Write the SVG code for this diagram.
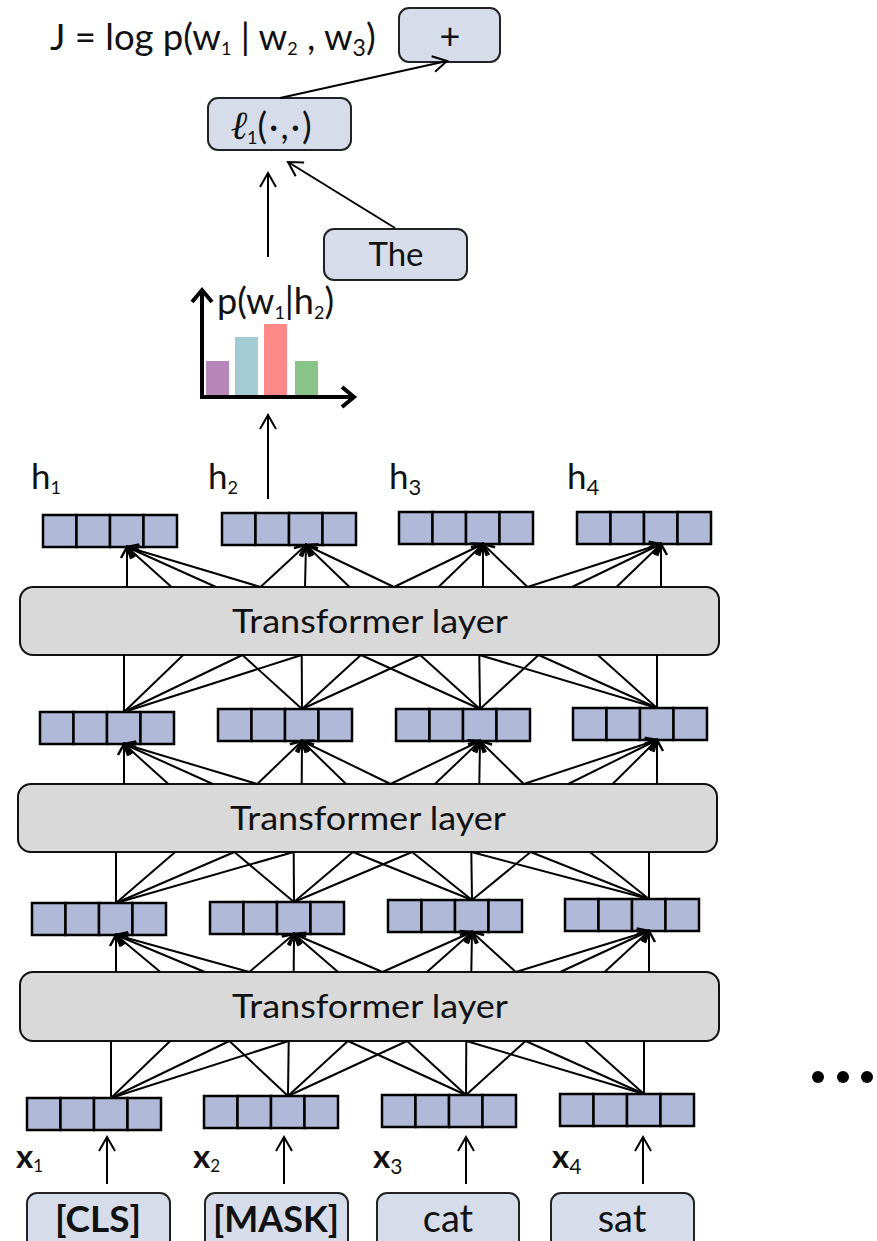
<svg xmlns="http://www.w3.org/2000/svg" xmlns:xlink="http://www.w3.org/1999/xlink" width="877" height="1241" viewBox="0 0 877 1241">
<style>
.t{font-family:Lato,"Open Sans",sans-serif;fill:#111}
.b{font-weight:bold}
.box{fill:#d6dcea;stroke:#222;stroke-width:2}
.layer{fill:#d9d9d9;stroke:#111;stroke-width:2}
.cell{fill:#b0b9d8;stroke:#000;stroke-width:2.5}
.ln{stroke:#000;stroke-width:2;fill:none}
.ar{stroke:#000;stroke-width:2;fill:none;marker-end:url(#ah)}
.as{stroke:#000;stroke-width:2;fill:none;marker-end:url(#ahs)}
.ax{stroke:#000;stroke-width:4;fill:none;marker-end:url(#axh)}
</style>
<defs>
<marker id="ah" viewBox="-16 -11 18 22" refX="0" refY="0" markerWidth="18" markerHeight="22" markerUnits="userSpaceOnUse" orient="auto"><path d="M-14,-8 L0,0 L-14,8" fill="none" stroke="#000" stroke-width="2"/></marker>
<marker id="ahs" viewBox="-14 -9 16 18" refX="0" refY="0" markerWidth="16" markerHeight="18" markerUnits="userSpaceOnUse" orient="auto"><path d="M-11,-6 L0,0 L-11,6" fill="none" stroke="#000" stroke-width="2.5"/></marker>
<marker id="axh" viewBox="-16 -13 20 26" refX="0" refY="0" markerWidth="20" markerHeight="26" markerUnits="userSpaceOnUse" orient="auto"><path d="M-12,-10 L0,0 L-12,10" fill="none" stroke="#000" stroke-width="4"/></marker>
<g id="vec">
<rect class="cell" x="0" y="0" width="33.5" height="32"/>
<rect class="cell" x="33.5" y="0" width="33.5" height="32"/>
<rect class="cell" x="67" y="0" width="33.5" height="32"/>
<rect class="cell" x="100.5" y="0" width="33.5" height="32"/>
</g>
</defs>
<rect width="877" height="1241" fill="#fff"/>

<!-- Top objective -->
<text id="objective" class="t" x="50" y="50" font-size="36.5">J = log p(w<tspan font-size="18" dy="5">1</tspan><tspan dy="-5"> | w</tspan><tspan font-size="18" dy="5">2</tspan><tspan dy="-5"> , w</tspan><tspan font-size="23" dy="6">3</tspan><tspan dy="-6">)</tspan></text>

<g id="plus"><rect class="box" x="399" y="8" width="101" height="54" rx="10"/><text class="t" x="450" y="49" font-size="36" text-anchor="middle">+</text></g>

<g id="loss"><rect class="box" x="208" y="98" width="143" height="52" rx="10"/><text class="t" x="272" y="139" font-size="36" text-anchor="middle"><tspan font-family="Liberation Serif,serif" font-style="italic" font-size="40">ℓ</tspan><tspan font-size="18" dy="5">1</tspan><tspan dy="-5" letter-spacing="2">(·,·)</tspan></text></g>

<g id="the"><rect class="box" x="324" y="229" width="143" height="51" rx="10"/><text class="t" x="396" y="266" font-size="33" text-anchor="middle">The</text></g>

<!-- chart -->
<g id="chart">
<rect x="206" y="361" width="23" height="36" fill="#b687b8"/>
<rect x="235" y="337" width="23" height="60" fill="#a3cbd4"/>
<rect x="264" y="324" width="23" height="75" fill="#ff8888"/>
<rect x="295" y="361" width="23" height="36" fill="#88c488"/>
<line class="ax" x1="202" y1="399" x2="202" y2="290"/>
<line class="ax" x1="200" y1="397" x2="354" y2="397"/>
<text class="t" x="217" y="314" font-size="36">p(w<tspan font-size="18" dy="5">1</tspan><tspan dy="-5">|h</tspan><tspan font-size="18" dy="5">2</tspan><tspan dy="-5">)</tspan></text>
</g>

<!-- h labels -->
<text class="t" x="31" y="489" font-size="35">h<tspan font-size="18" dy="5">1</tspan></text>
<text class="t" x="208" y="489" font-size="35">h<tspan font-size="18" dy="5">2</tspan></text>
<text class="t" x="389" y="489" font-size="35">h<tspan font-size="22" dy="6">3</tspan></text>
<text class="t" x="567" y="489" font-size="35">h<tspan font-size="22" dy="6">4</tspan></text>

<!-- vectors -->
<g id="h1v" transform="translate(43,515)"><use xlink:href="#vec"/></g>
<g id="h2v" transform="translate(222,513)"><use xlink:href="#vec"/></g>
<g id="h3v" transform="translate(399,512)"><use xlink:href="#vec"/></g>
<g id="h4v" transform="translate(577,512)"><use xlink:href="#vec"/></g>

<g id="r2v1" transform="translate(40,712)"><use xlink:href="#vec"/></g>
<g id="r2v2" transform="translate(218,709)"><use xlink:href="#vec"/></g>
<g id="r2v3" transform="translate(396,709)"><use xlink:href="#vec"/></g>
<g id="r2v4" transform="translate(573,708)"><use xlink:href="#vec"/></g>

<g id="r3v1" transform="translate(32,903)"><use xlink:href="#vec"/></g>
<g id="r3v2" transform="translate(210,902)"><use xlink:href="#vec"/></g>
<g id="r3v3" transform="translate(388,900)"><use xlink:href="#vec"/></g>
<g id="r3v4" transform="translate(565,899)"><use xlink:href="#vec"/></g>

<g id="x1v" transform="translate(27,1098)"><use xlink:href="#vec"/></g>
<g id="x2v" transform="translate(204,1096)"><use xlink:href="#vec"/></g>
<g id="x3v" transform="translate(382,1095)"><use xlink:href="#vec"/></g>
<g id="x4v" transform="translate(560,1094)"><use xlink:href="#vec"/></g>

<!-- layers -->
<g id="layer1"><rect class="layer" x="20" y="587" width="699" height="68" rx="13"/><text class="t" x="370" y="633" font-size="33" text-anchor="middle" textLength="276" lengthAdjust="spacingAndGlyphs">Transformer layer</text></g>
<g id="layer2"><rect class="layer" x="18" y="784" width="699" height="68" rx="13"/><text class="t" x="368" y="830" font-size="33" text-anchor="middle" textLength="276" lengthAdjust="spacingAndGlyphs">Transformer layer</text></g>
<g id="layer3"><rect class="layer" x="20" y="972" width="699" height="69" rx="13"/><text class="t" x="370" y="1018" font-size="33" text-anchor="middle" textLength="276" lengthAdjust="spacingAndGlyphs">Transformer layer</text></g>

<!-- x labels -->
<text class="t" x="16" y="1168" font-size="33"><tspan class="b">x</tspan><tspan font-size="17" dy="4">1</tspan></text>
<text class="t" x="193" y="1168" font-size="33"><tspan class="b">x</tspan><tspan font-size="17" dy="4">2</tspan></text>
<text class="t" x="373" y="1168" font-size="33"><tspan class="b">x</tspan><tspan font-size="21" dy="6">3</tspan></text>
<text class="t" x="552" y="1168" font-size="33"><tspan class="b">x</tspan><tspan font-size="21" dy="6">4</tspan></text>

<!-- tokens -->
<g id="tok1"><rect class="box" x="27" y="1193" width="143" height="60" rx="10"/><text class="t b" x="98" y="1232" font-size="37" text-anchor="middle">[CLS]</text></g>
<g id="tok2"><rect class="box" x="205" y="1193" width="143" height="60" rx="10"/><text class="t b" x="276" y="1232" font-size="36" text-anchor="middle">[MASK]</text></g>
<g id="tok3"><rect class="box" x="377" y="1193" width="142" height="60" rx="10"/><text class="t" x="448" y="1232" font-size="38" text-anchor="middle">cat</text></g>
<g id="tok4"><rect class="box" x="551" y="1193" width="143" height="60" rx="10"/><text class="t" x="622" y="1232" font-size="38" text-anchor="middle">sat</text></g>

<g id="dots" fill="#000"><circle cx="818" cy="1077" r="6"/><circle cx="843" cy="1077" r="6"/><circle cx="867" cy="1077" r="6"/></g>

<g id="connectors">
<!-- top -->
<line class="ar" x1="280" y1="98" x2="447" y2="61"/>
<line class="ar" x1="268" y1="257" x2="268" y2="173"/>
<line class="ar" x1="395" y1="228" x2="288" y2="162"/>
<line class="ar" x1="268" y1="499" x2="268" y2="415"/>
<!-- token arrows -->
<line class="ar" x1="107" y1="1184" x2="107" y2="1137"/>
<line class="ar" x1="284" y1="1184" x2="284" y2="1137"/>
<line class="ar" x1="466" y1="1184" x2="466" y2="1137"/>
<line class="ar" x1="643" y1="1184" x2="643" y2="1137"/>

<!-- Band A: layer1 top -> h -->
<line class="as" x1="127" y1="587" x2="127" y2="547"/>
<line class="as" x1="171.5" y1="587" x2="127" y2="547"/>
<line class="as" x1="216" y1="587" x2="127" y2="547"/>
<line class="as" x1="260.5" y1="587" x2="127" y2="547"/>
<line class="as" x1="260.5" y1="587" x2="306" y2="545"/>
<line class="as" x1="305" y1="587" x2="306" y2="545"/>
<line class="as" x1="349.5" y1="587" x2="306" y2="545"/>
<line class="as" x1="394" y1="587" x2="306" y2="545"/>
<line class="as" x1="394" y1="587" x2="483" y2="544"/>
<line class="as" x1="438.5" y1="587" x2="483" y2="544"/>
<line class="as" x1="483" y1="587" x2="483" y2="544"/>
<line class="as" x1="527.5" y1="587" x2="483" y2="544"/>
<line class="as" x1="527.5" y1="587" x2="661" y2="544"/>
<line class="as" x1="572" y1="587" x2="661" y2="544"/>
<line class="as" x1="616.5" y1="587" x2="661" y2="544"/>
<line class="as" x1="661" y1="587" x2="661" y2="544"/>

<!-- Band B: row2 -> layer1 bottom -->
<line class="ln" x1="124" y1="712" x2="124" y2="655"/>
<line class="ln" x1="124" y1="712" x2="183.2" y2="655"/>
<line class="ln" x1="124" y1="712" x2="242.4" y2="655"/>
<line class="ln" x1="124" y1="712" x2="301.7" y2="655"/>
<line class="ln" x1="302" y1="709" x2="242.4" y2="655"/>
<line class="ln" x1="302" y1="709" x2="301.7" y2="655"/>
<line class="ln" x1="302" y1="709" x2="360.9" y2="655"/>
<line class="ln" x1="302" y1="709" x2="420.1" y2="655"/>
<line class="ln" x1="480" y1="709" x2="360.9" y2="655"/>
<line class="ln" x1="480" y1="709" x2="420.1" y2="655"/>
<line class="ln" x1="480" y1="709" x2="479.3" y2="655"/>
<line class="ln" x1="480" y1="709" x2="538.6" y2="655"/>
<line class="ln" x1="657" y1="708" x2="479.3" y2="655"/>
<line class="ln" x1="657" y1="708" x2="538.6" y2="655"/>
<line class="ln" x1="657" y1="708" x2="597.8" y2="655"/>
<line class="ln" x1="657" y1="708" x2="657" y2="655"/>

<!-- Band C: layer2 top -> row2 -->
<line class="as" x1="124" y1="784" x2="124" y2="744"/>
<line class="as" x1="168.4" y1="784" x2="124" y2="744"/>
<line class="as" x1="212.8" y1="784" x2="124" y2="744"/>
<line class="as" x1="257.3" y1="784" x2="124" y2="744"/>
<line class="as" x1="257.3" y1="784" x2="302" y2="741"/>
<line class="as" x1="301.7" y1="784" x2="302" y2="741"/>
<line class="as" x1="346.1" y1="784" x2="302" y2="741"/>
<line class="as" x1="390.5" y1="784" x2="302" y2="741"/>
<line class="as" x1="390.5" y1="784" x2="480" y2="741"/>
<line class="as" x1="434.9" y1="784" x2="480" y2="741"/>
<line class="as" x1="479.3" y1="784" x2="480" y2="741"/>
<line class="as" x1="523.8" y1="784" x2="480" y2="741"/>
<line class="as" x1="523.8" y1="784" x2="657" y2="740"/>
<line class="as" x1="568.2" y1="784" x2="657" y2="740"/>
<line class="as" x1="612.6" y1="784" x2="657" y2="740"/>
<line class="as" x1="657" y1="784" x2="657" y2="740"/>

<!-- Band D: row3 -> layer2 bottom -->
<line class="ln" x1="116" y1="903" x2="116" y2="852"/>
<line class="ln" x1="116" y1="903" x2="175.2" y2="852"/>
<line class="ln" x1="116" y1="903" x2="234.4" y2="852"/>
<line class="ln" x1="116" y1="903" x2="293.7" y2="852"/>
<line class="ln" x1="294" y1="902" x2="234.4" y2="852"/>
<line class="ln" x1="294" y1="902" x2="293.7" y2="852"/>
<line class="ln" x1="294" y1="902" x2="352.9" y2="852"/>
<line class="ln" x1="294" y1="902" x2="412.1" y2="852"/>
<line class="ln" x1="472" y1="900" x2="352.9" y2="852"/>
<line class="ln" x1="472" y1="900" x2="412.1" y2="852"/>
<line class="ln" x1="472" y1="900" x2="471.3" y2="852"/>
<line class="ln" x1="472" y1="900" x2="530.6" y2="852"/>
<line class="ln" x1="649" y1="899" x2="471.3" y2="852"/>
<line class="ln" x1="649" y1="899" x2="530.6" y2="852"/>
<line class="ln" x1="649" y1="899" x2="589.8" y2="852"/>
<line class="ln" x1="649" y1="899" x2="649" y2="852"/>

<!-- Band E: layer3 top -> row3 -->
<line class="as" x1="116" y1="972" x2="116" y2="935"/>
<line class="as" x1="160.4" y1="972" x2="116" y2="935"/>
<line class="as" x1="204.8" y1="972" x2="116" y2="935"/>
<line class="as" x1="249.3" y1="972" x2="116" y2="935"/>
<line class="as" x1="249.3" y1="972" x2="294" y2="934"/>
<line class="as" x1="293.7" y1="972" x2="294" y2="934"/>
<line class="as" x1="338.1" y1="972" x2="294" y2="934"/>
<line class="as" x1="382.5" y1="972" x2="294" y2="934"/>
<line class="as" x1="382.5" y1="972" x2="472" y2="932"/>
<line class="as" x1="426.9" y1="972" x2="472" y2="932"/>
<line class="as" x1="471.3" y1="972" x2="472" y2="932"/>
<line class="as" x1="515.8" y1="972" x2="472" y2="932"/>
<line class="as" x1="515.8" y1="972" x2="649" y2="931"/>
<line class="as" x1="560.2" y1="972" x2="649" y2="931"/>
<line class="as" x1="604.6" y1="972" x2="649" y2="931"/>
<line class="as" x1="649" y1="972" x2="649" y2="931"/>

<!-- Band F: x row -> layer3 bottom -->
<line class="ln" x1="111" y1="1098" x2="111" y2="1041"/>
<line class="ln" x1="111" y1="1098" x2="170.2" y2="1041"/>
<line class="ln" x1="111" y1="1098" x2="229.4" y2="1041"/>
<line class="ln" x1="111" y1="1098" x2="288.7" y2="1041"/>
<line class="ln" x1="288" y1="1096" x2="229.4" y2="1041"/>
<line class="ln" x1="288" y1="1096" x2="288.7" y2="1041"/>
<line class="ln" x1="288" y1="1096" x2="347.9" y2="1041"/>
<line class="ln" x1="288" y1="1096" x2="407.1" y2="1041"/>
<line class="ln" x1="466" y1="1095" x2="347.9" y2="1041"/>
<line class="ln" x1="466" y1="1095" x2="407.1" y2="1041"/>
<line class="ln" x1="466" y1="1095" x2="466.3" y2="1041"/>
<line class="ln" x1="466" y1="1095" x2="525.6" y2="1041"/>
<line class="ln" x1="644" y1="1094" x2="466.3" y2="1041"/>
<line class="ln" x1="644" y1="1094" x2="525.6" y2="1041"/>
<line class="ln" x1="644" y1="1094" x2="584.8" y2="1041"/>
<line class="ln" x1="644" y1="1094" x2="644" y2="1041"/>
</g>
</svg>
